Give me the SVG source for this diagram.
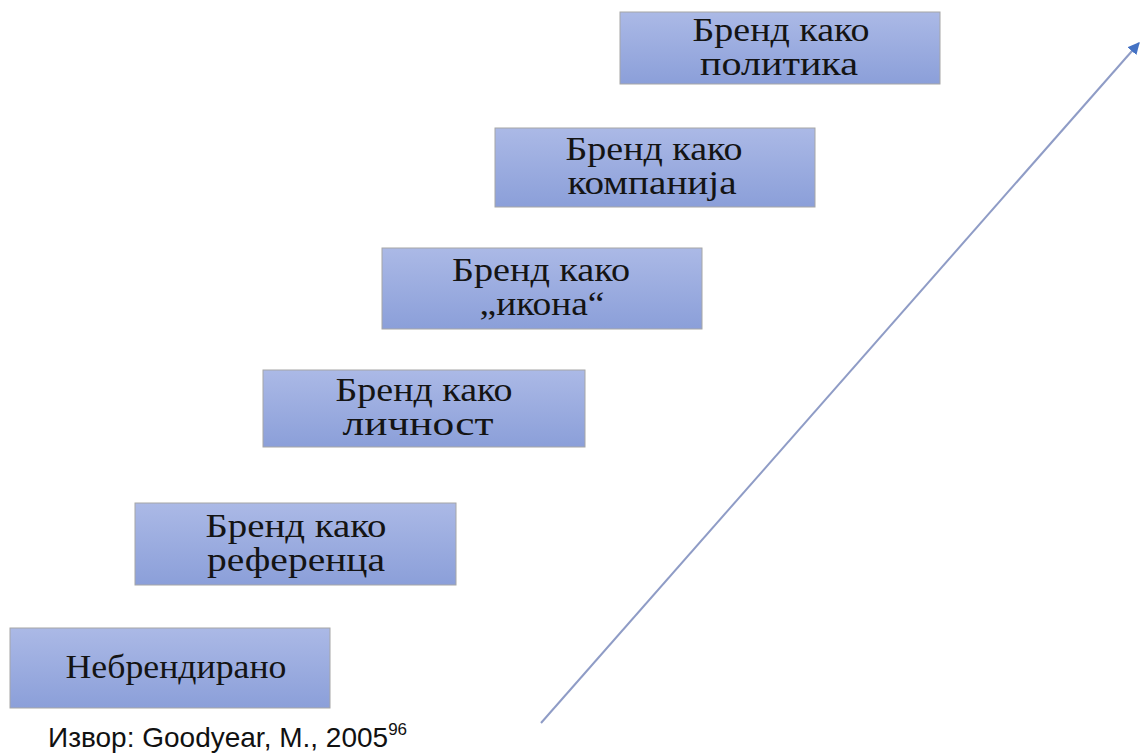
<svg xmlns="http://www.w3.org/2000/svg" width="1141" height="756" viewBox="0 0 1141 756">
<defs>
<linearGradient id="g" x1="0" y1="0" x2="0" y2="1">
<stop offset="0" stop-color="#abb9e6"/>
<stop offset="1" stop-color="#8b9fd9"/>
</linearGradient>
<marker id="ah" viewBox="0 0 10 10" refX="9" refY="5" markerWidth="6" markerHeight="6" orient="auto" markerUnits="strokeWidth">
<path d="M0,0 L10,5 L0,10 z" fill="#4472c4"/>
</marker>
<style>
.box{fill:url(#g);stroke:#a6a6a6;stroke-width:1}
.t{font-family:"Liberation Serif","Times New Roman",serif;font-size:33px;fill:#141414;text-anchor:middle}
.src{font-family:"Liberation Sans",Arial,sans-serif;font-size:28px;fill:#111}
</style>
</defs>
<rect width="1141" height="756" fill="#fff"/>
<g id="connectors">
<line x1="541" y1="723" x2="1139" y2="43" stroke="#8f9cc6" stroke-width="2" marker-end="url(#ah)"/>
</g>
<g id="n1">
<rect class="box" x="10" y="628" width="320" height="80"/>
<text class="t" x="176" y="678" textLength="221" lengthAdjust="spacingAndGlyphs">Небрендирано</text>
</g>
<g id="n2">
<rect class="box" x="135" y="503" width="321" height="82"/>
<text class="t" x="296" y="537" textLength="181" lengthAdjust="spacingAndGlyphs">Бренд како</text>
<text class="t" x="296" y="571" textLength="178" lengthAdjust="spacingAndGlyphs">референца</text>
</g>
<g id="n3">
<rect class="box" x="263" y="370" width="322" height="77"/>
<text class="t" x="424" y="401" textLength="177" lengthAdjust="spacingAndGlyphs">Бренд како</text>
<text class="t" x="418" y="435" textLength="151" lengthAdjust="spacingAndGlyphs">личност</text>
</g>
<g id="n4">
<rect class="box" x="382" y="248" width="320" height="81"/>
<text class="t" x="541" y="281" textLength="178" lengthAdjust="spacingAndGlyphs">Бренд како</text>
<text class="t" x="542" y="315" textLength="125" lengthAdjust="spacingAndGlyphs">„икона“</text>
</g>
<g id="n5">
<rect class="box" x="495" y="128" width="320" height="79"/>
<text class="t" x="654" y="160" textLength="177" lengthAdjust="spacingAndGlyphs">Бренд како</text>
<text class="t" x="652" y="194" textLength="169" lengthAdjust="spacingAndGlyphs">компанија</text>
</g>
<g id="n6">
<rect class="box" x="620" y="12" width="320" height="72"/>
<text class="t" x="781" y="41" textLength="177" lengthAdjust="spacingAndGlyphs">Бренд како</text>
<text class="t" x="779" y="75" textLength="158" lengthAdjust="spacingAndGlyphs">политика</text>
</g>
<g id="source">
<text class="src" x="48" y="747">Извор: Goodyear, M., 2005<tspan font-size="17" dy="-12">96</tspan></text>
</g>
</svg>
